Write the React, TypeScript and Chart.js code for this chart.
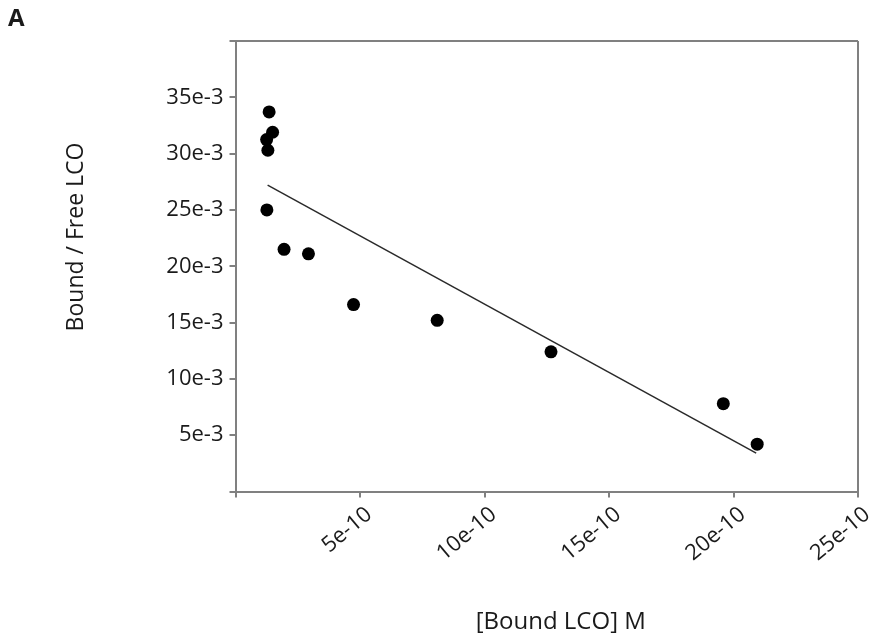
import { useEffect, useRef } from 'react';
import { Chart, registerables } from 'chart.js';

Chart.register(...registerables);

// Data
const boundLCO = [1.35e-10, 1.49e-10, 1.25e-10, 1.3e-10, 1.26e-10, 1.95e-10, 2.93e-10, 4.74e-10, 8.1e-10, 12.67e-10, 19.59e-10, 20.95e-10];
const boundFreeRatio = [33.7e-3, 31.9e-3, 31.25e-3, 30.3e-3, 25.0e-3, 21.5e-3, 21.1e-3, 16.6e-3, 15.2e-3, 12.4e-3, 7.8e-3, 4.2e-3];
const fitLineX = [1.29e-10, 20.91e-10];
const fitLineY = [27.2e-3, 3.4e-3];

const xTickLabels = ['', '5e-10', '10e-10', '15e-10', '20e-10', '25e-10'];
const yTickLabels = ['', '5e-3', '10e-3', '15e-3', '20e-3', '25e-3', '30e-3', '35e-3', ''];
const xTitle = '[Bound LCO] M';
const yTitle = 'Bound / Free LCO';
const panelLabel = 'A';

const FONT = '"Open Sans", sans-serif';
const AXIS = '#808080';
const TEXT = '#1a1a1a';

const textPlugin = {
  id: 'textPlugin',
  afterDraw(chart: any) {
    const { ctx, chartArea } = chart;
    ctx.save();
    ctx.fillStyle = TEXT;
    ctx.font = `24px ${FONT}`;
    ctx.textAlign = 'center';
    ctx.textBaseline = 'middle';
    ctx.fillText(xTitle, (chartArea.left + chartArea.right) / 2 + 14, 622);
    ctx.font = `23px ${FONT}`;
    ctx.save();
    ctx.translate(76, 237);
    ctx.rotate(-Math.PI / 2);
    ctx.fillText(yTitle, 0, 0);
    ctx.restore();
    ctx.font = `bold 24px ${FONT}`;
    ctx.textAlign = 'left';
    ctx.fillText(panelLabel, 8, 19);
    ctx.restore();
  },
};

export default function App() {
  const ref = useRef<HTMLCanvasElement | null>(null);
  useEffect(() => {
    document.body.style.margin = '0';
    const canvas = ref.current;
    if (!canvas) return;
    const chart = new Chart(canvas, {
      type: 'scatter',
      data: {
        datasets: [
          {
            data: boundLCO.map((x, i) => ({ x, y: boundFreeRatio[i] })),
            backgroundColor: '#000',
            borderWidth: 0,
            pointRadius: 6.5,
          },
          {
            data: fitLineX.map((x, i) => ({ x, y: fitLineY[i] })),
            showLine: true,
            borderColor: '#2a2a2a',
            borderWidth: 1.5,
            pointRadius: 0,
          },
        ],
      },
      options: {
        animation: false,
        responsive: true,
        maintainAspectRatio: false,
        layout: { padding: { top: 41, right: 19, left: 0, bottom: 0 } },
        plugins: { legend: { display: false }, tooltip: { enabled: false } },
        scales: {
          x: {
            type: 'linear',
            min: 0,
            max: 25e-10,
            afterFit: (s: any) => { s.height = 152.5; },
            border: { color: AXIS, width: 2 },
            grid: {
              color: (c: any) => (c.index === xTickLabels.length - 1 ? AXIS : 'rgba(0,0,0,0)'),
              lineWidth: 2,
              tickColor: AXIS,
              tickLength: 6,
            },
            ticks: {
              stepSize: 5e-10,
              autoSkip: false,
              minRotation: 40,
              maxRotation: 40,
              padding: 4,
              labelOffset: 9,
              color: TEXT,
              font: { family: FONT, size: 22 },
              callback: (_v: any, i: number) => xTickLabels[i],
            },
          },
          y: {
            type: 'linear',
            min: 0,
            max: 40e-3,
            afterFit: (s: any) => { s.width = 235.5; },
            border: { color: AXIS, width: 2 },
            grid: {
              color: (c: any) => (c.index === yTickLabels.length - 1 ? AXIS : 'rgba(0,0,0,0)'),
              lineWidth: 2,
              tickColor: AXIS,
              tickLength: 6,
            },
            ticks: {
              stepSize: 5e-3,
              autoSkip: false,
              padding: 6,
              color: TEXT,
              font: { family: FONT, size: 22 },
              callback: (_v: any, i: number) => yTickLabels[i],
            },
          },
        },
      },
      plugins: [textPlugin],
    });
    return () => chart.destroy();
  }, []);
  return (
    <div style={{ width: 879, height: 644, position: 'relative', background: '#fff' }}>
      <canvas ref={ref} />
    </div>
  );
}
